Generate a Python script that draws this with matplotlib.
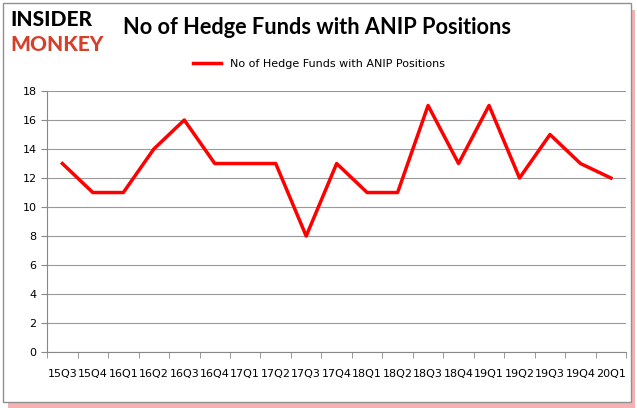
import matplotlib.pyplot as plt
from matplotlib.patches import Rectangle

quarters = ['15Q3', '15Q4', '16Q1', '16Q2', '16Q3', '16Q4', '17Q1', '17Q2', '17Q3', '17Q4',
            '18Q1', '18Q2', '18Q3', '18Q4', '19Q1', '19Q2', '19Q3', '19Q4', '20Q1']
funds = [13, 11, 11, 14, 16, 13, 13, 13, 8, 13, 11, 11, 17, 13, 17, 12, 15, 13, 12]
series_name = 'No of Hedge Funds with ANIP Positions'

fig = plt.figure(figsize=(6.37, 4.08), dpi=100)

# frame with red shadow like the original
fig.patches.append(Rectangle((0.012, 0.0), 0.985, 0.975, transform=fig.transFigure,
                             facecolor='#f08080', edgecolor='none', alpha=0.6, zorder=-2))
fig.patches.append(Rectangle((0.005, 0.015), 0.985, 0.978, transform=fig.transFigure,
                             facecolor='white', edgecolor='#909090', lw=1, zorder=-1))

ax = fig.add_axes([0.074, 0.137, 0.909, 0.64])
ax.patch.set_alpha(0)
x = list(range(len(quarters)))
ax.plot(x, funds, color='#ff0000', lw=2.5, label=series_name)

ax.set_xlim(-0.5, len(quarters) - 0.5)
ax.set_ylim(0, 18)
ax.set_yticks(range(0, 19, 2))
ax.set_xticks(x)
ax.set_xticklabels(quarters, fontsize=8)
ax.set_xticks([i - 0.5 for i in range(len(quarters) + 1)], minor=True)
ax.tick_params(axis='x', which='major', length=0, pad=12)
ax.tick_params(axis='x', which='minor', length=4, color='#888888')
ax.tick_params(axis='y', length=4, color='#888888', labelsize=8)
ax.grid(axis='y', color='#999999', lw=0.8)
ax.set_axisbelow(True)
for s in ['top', 'right']:
    ax.spines[s].set_visible(False)
for s in ['left', 'bottom']:
    ax.spines[s].set_color('#888888')

fig.text(0.193, 0.932, series_name, fontsize=15.7, fontweight='bold', va='center', ha='left',
         family=['Lato', 'DejaVu Sans'])
fig.text(0.016, 0.952, 'INSIDER', fontsize=15, fontweight='black', color='black', va='center',
         family=['Lato', 'DejaVu Sans'])
fig.text(0.016, 0.89, 'MONKEY', fontsize=15, fontweight='black', color='#d6402b', va='center',
         family=['Lato', 'DejaVu Sans'])

ax.legend(loc='center', bbox_to_anchor=(0.47, 1.103), frameon=False, fontsize=8,
          handlelength=2.5)

fig.savefig('out.png', dpi=100)
